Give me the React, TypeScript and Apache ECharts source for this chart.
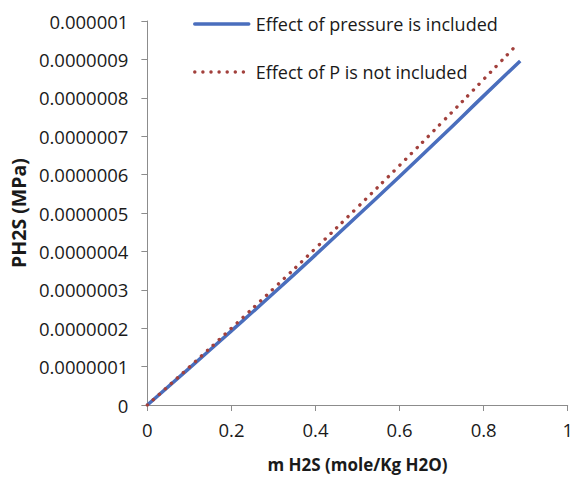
import React, { useEffect, useRef } from "react";
import * as echarts from "echarts";

const xIncluded = [0, 0.1, 0.2, 0.3, 0.4, 0.5, 0.6, 0.7, 0.8, 0.887];
const pIncluded = [0, 0.096e-6, 0.193e-6, 0.291e-6, 0.391e-6, 0.493e-6, 0.595e-6, 0.699e-6, 0.805e-6, 0.896e-6];
const xNotIncluded = [0, 0.1, 0.2, 0.3, 0.4, 0.5, 0.6, 0.7, 0.8, 0.878];
const pNotIncluded = [0, 0.099e-6, 0.2e-6, 0.303e-6, 0.408e-6, 0.515e-6, 0.624e-6, 0.735e-6, 0.848e-6, 0.937e-6];
const seriesNames = ["Effect of pressure is included", "Effect of P is not included"];

const FONT = "Open Sans";

export default function App() {
  const ref = useRef<HTMLDivElement>(null);
  useEffect(() => {
    if (!ref.current) return;
    const chart = echarts.init(ref.current, null, { renderer: "svg" });
    const fmtY = (v: number) =>
      (Math.round(v * 1e7) / 1e7).toFixed(7).replace(/0+$/, "").replace(/\.$/, "");
    chart.setOption({
      animation: false,
      backgroundColor: "#ffffff",
      grid: { left: 147, right: 4, top: 21, bottom: 71, containLabel: false },
      legend: {
        orient: "vertical",
        left: 193,
        top: 15,
        padding: 0,
        itemWidth: 54,
        itemHeight: 14,
        itemGap: 30,
        itemStyle: { opacity: 0 },
        lineStyle: { width: "inherit", type: "inherit", cap: "round" },
        textStyle: { fontFamily: FONT, fontSize: 18, color: "#1a1a1a", padding: [0, 0, 0, 2] },
        data: seriesNames,
      },
      xAxis: {
        type: "value",
        min: 0,
        max: 1,
        interval: 0.2,
        name: "m H2S (mole/Kg H2O)",
        nameLocation: "middle",
        nameGap: 51,
        nameTextStyle: { fontFamily: FONT, fontSize: 17, fontWeight: "bold", color: "#1a1a1a" },
        axisLine: { show: true, lineStyle: { color: "#8c8c8c", width: 1 } },
        axisTick: { show: true, inside: false, length: 6, lineStyle: { color: "#8c8c8c" } },
        axisLabel: { fontFamily: FONT, fontSize: 18.5, color: "#1a1a1a", margin: 15 },
        splitLine: { show: false },
      },
      yAxis: {
        type: "value",
        min: 0,
        max: 1e-6,
        interval: 1e-7,
        name: "PH2S (MPa)",
        nameLocation: "middle",
        nameGap: 117,
        nameRotate: 90,
        nameTextStyle: { fontFamily: FONT, fontSize: 19.5, fontWeight: "bold", color: "#1a1a1a" },
        axisLine: { show: true, lineStyle: { color: "#8c8c8c", width: 1 } },
        axisTick: { show: true, inside: false, length: 6, lineStyle: { color: "#8c8c8c" } },
        axisLabel: { fontFamily: FONT, fontSize: 18.5, color: "#1a1a1a", margin: 19, formatter: fmtY },
        splitLine: { show: false },
      },
      series: [
        {
          name: seriesNames[0],
          type: "line",
          showSymbol: false,
          symbol: "none",
          smooth: true,
          data: xIncluded.map((x, i) => [x, pIncluded[i]]),
          lineStyle: { color: "#4a6ebd", width: 3.5 },
          itemStyle: { color: "#4a6ebd" },
          z: 2,
        },
        {
          name: seriesNames[1],
          type: "line",
          showSymbol: false,
          symbol: "none",
          smooth: true,
          data: xNotIncluded.map((x, i) => [x, pNotIncluded[i]]),
          lineStyle: { color: "#a2403c", width: 3.4, type: [0.1, 8], cap: "round" },
          itemStyle: { color: "#a2403c" },
          z: 3,
        },
      ],
    });
    return () => chart.dispose();
  }, []);
  return (
    <div
      ref={ref}
      style={{ position: "fixed", left: 0, top: 0, width: 576, height: 478 }}
    />
  );
}
